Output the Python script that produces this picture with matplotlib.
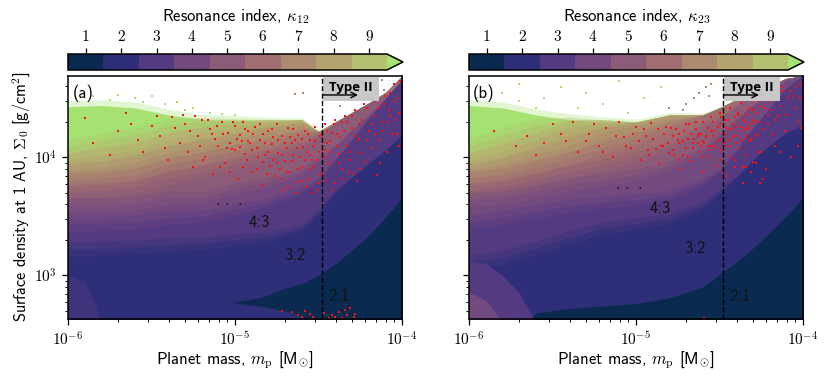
import numpy as np
import matplotlib
matplotlib.use("Agg")
import matplotlib.pyplot as plt
from matplotlib.colors import BoundaryNorm, ListedColormap
from matplotlib.cm import ScalarMappable
from matplotlib.ticker import NullFormatter

plt.rcParams['font.family'] = ['cmss10', 'DejaVu Sans']
plt.rcParams['mathtext.fontset'] = 'cm'
plt.rcParams['axes.unicode_minus'] = False

# band colours for kappa = 1..9, then the "over" colour
band_colors = ['#0b2a50', '#2e2f78', '#543a80', '#734a80', '#8c5b78',
               '#a06e70', '#ab8a70', '#b3a46f', '#b2c070']
over_color = '#a5e272'
cbar_ticks = [1, 2, 3, 4, 5, 6, 7, 8, 9]
x_ticks = [1e-6, 1e-5, 1e-4]
x_labels = [r'$10^{-6}$', r'$10^{-5}$', r'$10^{-4}$']
y_ticks = [1e3, 1e4]
y_labels = [r'$10^{3}$', r'$10^{4}$']

log_m = [-6.0, -5.8, -5.6, -5.4, -5.2, -5.0, -4.8, -4.6, -4.5, -4.4, -4.3, -4.2, -4.1, -4.0]
# how wide the speckled transition between bands looks at each mass (dex)
speckle = [0.06, 0.06, 0.06, 0.06, 0.05, 0.05, 0.04, 0.03, 0.02, 0.01, 0.0, 0.0, 0.0, 0.0]

# panel (a): log10 Sigma of the upper edge of each band
top_a = [4.45, 4.46, 4.44, 4.38, 4.34, 4.33, 4.32, 4.32, 4.22, 4.30, 4.38, 4.46, 4.55, 4.69]
edge9_a = [4.09, 4.15, 4.19, 4.27, 4.31, 4.32, 4.33, 4.8, 4.8, 4.8, 4.8, 4.8, 4.8, 4.8]
edge8_a = [3.98, 4.02, 4.06, 4.15, 4.21, 4.25, 4.30, 4.33, 4.8, 4.8, 4.8, 4.8, 4.8, 4.8]
edge7_a = [3.89, 3.91, 3.96, 4.04, 4.10, 4.16, 4.22, 4.27, 4.30, 4.8, 4.8, 4.8, 4.8, 4.8]
edge6_a = [3.81, 3.82, 3.85, 3.94, 3.99, 4.06, 4.12, 4.21, 4.22, 4.25, 4.8, 4.8, 4.8, 4.8]
edge5_a = [3.71, 3.72, 3.75, 3.82, 3.88, 3.94, 4.02, 4.10, 4.19, 4.30, 4.40, 4.46, 4.53, 4.61]
edge4_a = [3.60, 3.60, 3.61, 3.66, 3.66, 3.74, 3.79, 3.89, 3.98, 4.10, 4.23, 4.36, 4.49, 4.61]
edge3_a = [3.44, 3.44, 3.45, 3.49, 3.50, 3.56, 3.62, 3.72, 3.81, 3.98, 4.15, 4.33, 4.50, 4.66]
edge2_a = [3.22, 3.23, 3.24, 3.26, 3.27, 3.30, 3.33, 3.40, 3.54, 3.71, 3.83, 3.95, 4.06, 4.19]
wedge_m_a = [-5.02, -4.85, -4.7, -4.6, -4.5, -4.4, -4.3, -4.2, -4.1, -4.0]
wedge_up_a = [2.77, 2.81, 2.89, 2.93, 3.00, 3.10, 3.21, 3.34, 3.49, 3.66]
wedge_lo_a = [2.77, 2.74, 2.70, 2.65, 2.60, 2.60, 2.60, 2.60, 2.60, 2.60]
lobe_m_a = [-6.0, -5.9, -5.85, -5.8]
lobe_a = [3.0, 2.95, 2.8, 2.6]

# panel (b)
top_b = [4.46, 4.44, 4.38, 4.34, 4.32, 4.30, 4.36, 4.36, 4.42, 4.49, 4.55, 4.61, 4.67, 4.69]
edge9_b = [4.10, 4.19, 4.27, 4.32, 4.32, 4.8, 4.8, 4.8, 4.8, 4.8, 4.8, 4.8, 4.8, 4.8]
edge8_b = [3.98, 4.05, 4.15, 4.25, 4.30, 4.33, 4.8, 4.8, 4.8, 4.8, 4.8, 4.8, 4.8, 4.8]
edge7_b = [3.89, 3.94, 4.02, 4.10, 4.21, 4.27, 4.33, 4.8, 4.8, 4.8, 4.8, 4.8, 4.8, 4.8]
edge6_b = [3.82, 3.85, 3.92, 3.99, 4.08, 4.16, 4.27, 4.38, 4.8, 4.8, 4.8, 4.8, 4.8, 4.8]
edge5_b = [3.72, 3.75, 3.81, 3.88, 3.94, 4.00, 4.10, 4.27, 4.33, 4.44, 4.53, 4.8, 4.8, 4.8]
edge4_b = [3.64, 3.66, 3.71, 3.77, 3.81, 3.85, 3.93, 4.06, 4.19, 4.32, 4.44, 4.55, 4.66, 4.71]
edge3_b = [3.45, 3.49, 3.54, 3.59, 3.62, 3.64, 3.68, 3.79, 3.89, 4.06, 4.25, 4.42, 4.59, 4.70]
edge2_b = [3.11, 3.15, 3.23, 3.32, 3.40, 3.44, 3.48, 3.59, 3.71, 3.83, 3.98, 4.10, 4.21, 4.27]
wedge_m_b = [-5.65, -5.6, -5.4, -5.2, -5.0, -4.8, -4.6, -4.5, -4.4, -4.3, -4.2, -4.1, -4.0]
wedge_up_b = [2.60, 2.68, 2.72, 2.74, 2.76, 2.81, 2.90, 3.01, 3.11, 3.23, 3.36, 3.50, 3.66]
lobe3_m_b = [-6.0, -5.9, -5.8, -5.7, -5.6]
lobe3_b = [3.12, 3.10, 3.00, 2.85, 2.60]
lobe4_m_b = [-6.0, -5.9, -5.8]
lobe4_b = [2.86, 2.79, 2.60]

# unstable runs (red), log10 values
red_m_a = [-5.9, -5.85, -5.7, -5.65, -5.55, -5.5, -5.45, -5.4, -5.38, -5.33,
           -5.3, -5.28, -5.25, -5.22, -5.2, -5.18, -5.15, -5.13, -5.1, -5.08,
           -5.06, -5.04, -5.02, -5.0, -4.98, -4.96, -4.95, -4.93, -4.92, -4.9,
           -4.88, -4.87, -4.85, -4.84, -4.82, -4.8, -4.79, -4.78, -4.76, -4.75,
           -4.74, -4.72, -4.71, -4.7, -4.68, -4.67, -4.66, -4.65, -4.63, -4.62,
           -4.6, -4.59, -4.58, -4.56, -4.55, -4.54, -4.52, -4.51, -4.5, -4.49,
           -4.48, -4.46, -4.45, -4.44, -4.42, -4.41, -4.4, -4.38, -4.37, -4.36,
           -4.34, -4.33, -4.32, -4.3, -4.29, -4.28, -4.26, -4.25, -4.24, -4.22,
           -4.21, -4.2, -4.18, -4.17, -4.16, -4.14, -4.13, -4.12, -4.1, -4.09,
           -4.08, -4.07, -4.06, -4.05, -4.04, -4.03, -4.02, -4.01, -4.15, -4.27,
           -5.12, -5.03, -4.97, -4.91, -4.83, -4.77, -4.69, -4.64, -4.57, -4.53,
           -5.0, -4.94, -4.86, -4.81, -4.73, -4.61, -4.55, -4.47, -4.43, -4.39,
           -4.72, -4.66, -4.62, -4.6, -4.58, -4.55, -4.53, -4.47, -4.44, -4.42,
           -4.4, -4.38, -4.36, -4.34, -4.33, -4.31, -4.29, -4.28,
           -5.75, -5.62, -5.58, -5.47, -5.42, -5.36, -5.31, -5.27, -5.24, -5.21,
           -5.19, -5.16, -5.14, -5.11, -5.09, -5.07, -5.05, -5.03, -5.01, -4.99,
           -4.97, -4.95, -4.94, -4.92, -4.9, -4.89, -4.87, -4.85, -4.83, -4.82,
           -4.8, -4.78, -4.77, -4.75, -4.74, -4.72, -4.7, -4.69, -4.67, -4.66,
           -4.65, -4.63, -4.62, -4.6, -4.59, -4.58, -4.56, -4.55, -4.53, -4.52,
           -4.51, -4.49, -4.48, -4.46, -4.45, -4.43, -4.41, -4.39, -4.38, -4.36,
           -4.35, -4.33, -4.31, -4.3, -4.28, -4.26, -4.25, -4.23, -4.21, -4.19,
           -4.18, -4.16, -4.14, -4.12, -4.11, -4.09, -4.07, -4.05, -4.03, -4.02,
           -4.72, -4.68, -4.63, -4.57, -4.54, -4.5, -4.46, -4.42, -4.36, -4.32]
red_s_a = [4.33, 4.12, 4.22, 4.38, 4.05, 4.27, 4.18, 3.98, 4.34, 4.12,
           4.28, 4.05, 3.92, 4.18, 4.32, 4.0, 4.24, 3.86, 4.1, 4.3,
           3.95, 4.21, 4.07, 4.27, 3.82, 4.14, 4.3, 3.98, 4.22, 4.06,
           4.26, 3.9, 4.15, 3.77, 4.02, 4.22, 3.93, 4.11, 3.84, 4.28,
           4.04, 4.18, 3.72, 3.97, 4.25, 3.88, 4.12, 4.02, 3.79, 4.19,
           3.92, 4.09, 4.22, 3.82, 4.15, 3.98, 4.26, 3.72, 4.05, 4.18,
           3.88, 4.28, 4.12, 3.95, 4.21, 3.78, 4.32, 4.03, 4.17, 3.9,
           4.35, 4.1, 3.98, 4.25, 3.86, 4.4, 4.16, 4.04, 4.32, 3.96,
           4.42, 4.22, 4.08, 4.35, 4.48, 4.15, 3.95, 4.3, 4.52, 4.05,
           4.4, 4.55, 4.2, 4.62, 4.32, 4.5, 4.1, 4.65, 3.85, 3.8,
           4.16, 4.12, 4.19, 4.12, 4.2, 4.17, 4.08, 4.15, 4.05, 4.1,
           4.06, 4.03, 4.0, 3.86, 3.9, 4.0, 3.9, 4.0, 4.05, 4.1,
           2.7, 2.69, 2.66, 2.65, 2.7, 2.67, 2.65, 2.68, 2.64, 2.66,
           2.65, 2.69, 2.64, 2.71, 2.66, 2.72, 2.65, 2.67,
           4.02, 4.28, 4.15, 4.35, 4.08, 4.25, 4.36, 4.22, 4.35, 4.1,
           3.98, 4.32, 4.2, 4.27, 3.92, 4.2, 4.08, 3.88, 4.3, 4.16,
           4.09, 3.92, 4.24, 4.14, 3.88, 4.2, 4.08, 4.28, 3.96, 4.12,
           4.05, 4.24, 3.98, 3.95, 4.15, 4.02, 4.12, 3.88, 4.17, 3.97,
           4.24, 4.08, 3.9, 4.16, 3.8, 3.98, 4.2, 4.02, 3.92, 4.14,
           3.98, 3.85, 4.2, 4.06, 4.22, 4.14, 4.28, 4.2, 3.95, 4.3,
           4.22, 4.3, 4.05, 4.35, 4.18, 4.28, 3.9, 4.45, 4.15, 4.5,
           4.28, 4.2, 4.42, 4.22, 4.45, 4.3, 4.35, 4.48, 4.2, 4.38,
           3.82, 3.75, 3.7, 3.75, 3.7, 3.78, 3.8, 3.72, 3.82, 3.88]

red_m_b = [-5.85, -5.72, -5.6, -5.5, -5.42, -5.35, -5.28, -5.22, -5.18, -5.14,
           -5.1, -5.07, -5.03, -5.0, -4.97, -4.94, -4.91, -4.88, -4.86, -4.83,
           -4.81, -4.79, -4.77, -4.75, -4.73, -4.71, -4.7, -4.68, -4.67, -4.65,
           -4.64, -4.62, -4.61, -4.6, -4.59, -4.57, -4.56, -4.55, -4.54, -4.53,
           -4.52, -4.51, -4.5, -4.49, -4.48, -4.47, -4.46, -4.45, -4.44, -4.43,
           -4.42, -4.41, -4.4, -4.39, -4.38, -4.37, -4.36, -4.35, -4.34, -4.33,
           -4.32, -4.31, -4.3, -4.29, -4.28, -4.27, -4.26, -4.25, -4.24, -4.23,
           -4.21, -4.19, -4.17, -4.15, -4.13, -4.11, -4.09, -4.07, -4.05, -4.03,
           -4.02, -4.69, -4.74, -4.62, -4.58, -4.55, -4.5, -4.47, -4.45, -4.42,
           -4.4, -4.38, -4.35, -4.33, -4.3, -4.28, -4.92, -4.85, -4.78, -4.72,
           -4.66, -4.63, -4.6, -4.57, -4.52, -4.48, -4.44, -4.37, -4.34, -4.31,
           -5.65, -5.55, -5.45, -5.38, -5.3, -5.25, -5.2, -5.12, -5.06, -5.02,
           -4.98, -4.95, -4.93, -4.9, -4.87, -4.84, -4.82, -4.8, -4.78, -4.76,
           -4.74, -4.72, -4.7, -4.69, -4.67, -4.66, -4.64, -4.63, -4.61, -4.6,
           -4.58, -4.57, -4.55, -4.54, -4.53, -4.51, -4.5, -4.49, -4.47, -4.46,
           -4.45, -4.44, -4.43, -4.41, -4.4, -4.39, -4.37, -4.36, -4.35, -4.34,
           -4.33, -4.32, -4.31, -4.3, -4.29, -4.28, -4.27, -4.26, -4.25, -4.24,
           -4.23, -4.22, -4.21, -4.2, -4.19, -4.18, -4.17, -4.16, -4.14, -4.12,
           -4.1, -4.08, -4.06, -4.04, -4.03, -4.02, -4.01, -4.18, -4.27, -4.34,
           -4.74, -4.6, -4.5, -4.48, -4.41, -4.36, -4.3, -4.26, -4.22, -4.14, -4.59]
red_s_b = [4.22, 4.1, 4.02, 4.28, 4.14, 4.05, 4.2, 4.1, 4.25, 4.0,
           4.3, 4.17, 4.08, 4.26, 3.98, 4.18, 4.29, 4.07, 3.95, 4.2,
           4.12, 4.25, 4.02, 4.15, 3.9, 4.22, 4.08, 4.28, 3.97, 4.16,
           4.3, 4.05, 4.2, 3.88, 4.12, 4.25, 4.0, 4.34, 4.18, 4.1,
           3.93, 4.26, 4.38, 4.06, 4.2, 4.32, 3.84, 4.14, 4.42, 4.0,
           4.28, 3.92, 4.18, 4.36, 4.08, 4.46, 3.78, 4.24, 4.02, 4.4,
           4.14, 3.88, 4.5, 4.3, 3.95, 4.2, 4.44, 4.05, 3.82, 4.56,
           4.28, 4.48, 4.1, 4.35, 4.6, 4.22, 4.5, 4.0, 4.42, 4.3,
           4.62, 4.16, 4.12, 4.2, 4.17, 4.22, 4.16, 4.2, 4.24, 4.18,
           4.26, 4.22, 4.3, 4.26, 4.32, 4.3, 4.02, 4.1, 4.06, 4.02,
           4.08, 4.12, 4.14, 4.1, 4.08, 4.12, 4.1, 4.14, 4.18, 4.16,
           4.18, 4.12, 4.2, 4.3, 4.14, 4.28, 4.05, 4.18, 4.1, 4.2,
           4.14, 4.24, 4.06, 4.16, 4.24, 4.1, 4.26, 4.04, 4.18, 4.24,
           4.2, 4.14, 4.28, 4.0, 4.2, 4.12, 4.24, 4.18, 4.1, 4.3,
           4.18, 4.06, 4.1, 4.3, 4.22, 4.14, 4.28, 4.34, 4.1, 4.26,
           4.32, 4.16, 4.24, 4.34, 4.12, 4.38, 4.26, 4.32, 4.16, 4.36,
           4.24, 4.42, 4.28, 4.4, 4.18, 4.38, 4.48, 4.3, 4.52, 4.24,
           4.42, 4.5, 4.36, 4.55, 4.4, 4.58, 4.32, 4.5, 4.44, 4.56,
           4.36, 4.56, 4.52, 4.6, 4.1, 4.5, 4.25, 4.2, 4.05, 3.92,
           3.98, 4.0, 3.98, 3.88, 3.98, 3.92, 3.96, 3.78, 3.9, 4.05, 2.64]

# stray runs above the main cloud
green_m_a = [-5.95, -5.85, -5.75, -5.7, -5.6, -5.55, -5.5, -5.42, -5.35, -5.3, -5.25, -5.15, -5.08, -5.0]
green_s_a = [4.5, 4.52, 4.49, 4.53, 4.5, 4.47, 4.52, 4.45, 4.47, 4.4, 4.42, 4.38, 4.37, 4.36]
tan_m_a = [-4.64, -4.59, -4.37, -4.12, -4.11, -4.16]
tan_s_a = [4.54, 4.55, 4.44, 4.66, 4.57, 4.61]
green_m_b = [-5.95, -5.8, -5.7, -5.55, -5.45, -5.3, -5.2, -5.1, -4.95, -4.85, -5.6, -5.35, -5.05, -5.7]
green_s_b = [4.5, 4.55, 4.62, 4.5, 4.6, 4.55, 4.45, 4.65, 4.5, 4.6, 4.42, 4.42, 4.38, 4.48]
tan_m_b = [-4.72, -4.65, -4.62, -4.58, -4.56, -4.8, -4.7, -4.55]
tan_s_b = [4.4, 4.5, 4.55, 4.6, 4.52, 4.42, 4.45, 4.62]

W, H = 830, 380
XLIM = (1e-6, 1e-4)
YLIM = (424, 49000)
TYPE2_MASS = 3.3e-5


def draw_bands(ax, top, edges, wedge):
    m = 10.0 ** np.array(log_m)
    low = YLIM[0] * 0.5
    top = np.array(top)
    d = np.array(speckle)
    # soft top edge, then each band from the highest down with a soft upper side
    ax.fill_between(m, low, 10.0 ** (top + d / 2), color=over_color, alpha=0.3, lw=0)
    ax.fill_between(m, low, 10.0 ** (top - d / 3), color=over_color, lw=0)
    for k, edge in zip(range(8, 0, -1), edges):
        edge = np.array(edge)
        ax.fill_between(m, low, 10.0 ** np.minimum(edge + d, top), color=band_colors[k],
                        alpha=0.35, lw=0)
        ax.fill_between(m, low, 10.0 ** np.minimum(edge, top), color=band_colors[k],
                        alpha=0.55, lw=0)
        ax.fill_between(m, low, 10.0 ** np.minimum(edge - d, top), color=band_colors[k], lw=0)
    wm, wl, wu = wedge
    ax.fill_between(10.0 ** np.array(wm), 10.0 ** np.array(wl), 10.0 ** np.array(wu),
                    color=band_colors[0], lw=0)


def scatter(ax, lm, ls, color, size):
    ax.scatter(10.0 ** np.array(lm), 10.0 ** np.array(ls), s=size, c=color,
               marker='s', linewidths=0, zorder=3)


def dress(ax, letter, labels):
    ax.set_xscale('log')
    ax.set_yscale('log')
    ax.set_xlim(XLIM)
    ax.set_ylim(YLIM)
    ax.set_xticks(x_ticks)
    ax.set_xticklabels(x_labels)
    ax.set_yticks(y_ticks)
    ax.set_yticklabels(y_labels)
    ax.xaxis.set_minor_formatter(NullFormatter())
    ax.yaxis.set_minor_formatter(NullFormatter())
    ax.axvline(TYPE2_MASS, color='k', ls='--', lw=1.0, zorder=5)
    ax.add_patch(plt.Rectangle((0.763, 0.898), 0.168, 0.099, transform=ax.transAxes,
                               fc='#c8c8c8', ec='none', zorder=4))
    ax.text(0.847, 0.952, 'Type II', transform=ax.transAxes, ha='center', va='center',
            fontsize=9.5, fontweight='bold', family=['Open Sans', 'DejaVu Sans'], zorder=6)
    ax.annotate('', xy=(0.868, 0.922), xytext=(0.763, 0.922), xycoords='axes fraction',
                arrowprops=dict(arrowstyle='->', color='k', lw=1.0, shrinkA=0, shrinkB=0), zorder=6)
    ax.text(0.045, 0.93, letter, transform=ax.transAxes, ha='center', va='center', fontsize=12)
    for x, y, s in labels:
        ax.text(x, y, s, ha='center', va='center', fontsize=12, color='#111111', zorder=6)
    ax.tick_params(which='major', length=4.5, width=0.9, labelsize=11)
    ax.tick_params(which='minor', length=2.5, width=0.7)
    ax.set_xlabel(r'Planet mass, $m_{\rm p}$ [M$_{\odot}$]', fontsize=12)
    ax.xaxis.set_label_coords(0.5, -0.123)
    for sp in ax.spines.values():
        sp.set_linewidth(1.1)
        sp.set_zorder(7)


def colorbar(fig, rect, sub, center_px):
    cax = fig.add_axes(rect)
    cmap = ListedColormap(band_colors)
    cmap.set_over(over_color)
    norm = BoundaryNorm(np.arange(0.5, 10.5), cmap.N)
    cb = fig.colorbar(ScalarMappable(norm=norm, cmap=cmap), cax=cax, orientation='horizontal',
                      extend='max', extendfrac=16 / 318, ticks=cbar_ticks, spacing='proportional')
    cb.ax.xaxis.set_ticks_position('top')
    cb.ax.set_xticklabels(['$%d$' % t for t in cbar_ticks], fontsize=11)
    cb.ax.tick_params(length=4.5, width=0.9, pad=3)
    cb.ax.minorticks_off()
    cb.outline.set_linewidth(1.1)
    fig.text(center_px / W, 1 - 17 / H, r'Resonance index, $\kappa_{%s}$' % sub, fontsize=12,
             ha='center', va='center')


fig = plt.figure(figsize=(W / 100, H / 100), dpi=100)

ax_a = fig.add_axes([68 / W, (H - 319.3) / H, 334 / W, 243.3 / H])
edges_a = [edge9_a, edge8_a, edge7_a, edge6_a, edge5_a, edge4_a, edge3_a, edge2_a]
draw_bands(ax_a, top_a, edges_a, (wedge_m_a, wedge_lo_a, wedge_up_a))
ax_a.fill_between(10.0 ** np.array(lobe_m_a), YLIM[0] * 0.5, 10.0 ** np.array(lobe_a),
                  color=band_colors[2], alpha=0.45, lw=0)
scatter(ax_a, green_m_a, green_s_a, over_color, 1.2)
scatter(ax_a, tan_m_a, tan_s_a, band_colors[6], 1.6)
scatter(ax_a, red_m_a, red_s_a, '#ff1010', 2.6)
dress(ax_a, '(a)', [(9.2e-6, 4.2e3, r'$\cdot\,\cdot\,\cdot$'), (1.39e-5, 2.83e3, '4:3'),
                    (2.29e-5, 1.46e3, '3:2'), (4.2e-5, 668, '2:1')])
ax_a.set_ylabel(r'Surface density at 1 AU, $\Sigma_0$ [g/cm$^2$]', fontsize=11.7)
ax_a.yaxis.set_label_coords(-0.108, 0.503)
colorbar(fig, [68 / W, (H - 70) / H, 335 / W, 16 / H], '12', 235.5)

ax_b = fig.add_axes([469 / W, (H - 319.3) / H, 334 / W, 243.3 / H])
edges_b = [edge9_b, edge8_b, edge7_b, edge6_b, edge5_b, edge4_b, edge3_b, edge2_b]
draw_bands(ax_b, top_b, edges_b, (wedge_m_b, [2.6] * len(wedge_m_b), wedge_up_b))
ax_b.fill_between(10.0 ** np.array(lobe3_m_b), YLIM[0] * 0.5, 10.0 ** np.array(lobe3_b),
                  color=band_colors[2], lw=0)
ax_b.fill_between(10.0 ** np.array(lobe4_m_b), YLIM[0] * 0.5, 10.0 ** np.array(lobe4_b),
                  color=band_colors[3], lw=0)
scatter(ax_b, green_m_b, green_s_b, over_color, 1.2)
scatter(ax_b, tan_m_b, tan_s_b, band_colors[6], 1.6)
scatter(ax_b, red_m_b, red_s_b, '#ff1010', 2.6)
dress(ax_b, '(b)', [(9.1e-6, 5.8e3, r'$\cdot\,\cdot\,\cdot$'), (1.39e-5, 3.72e3, '4:3'),
                    (2.26e-5, 1.68e3, '3:2'), (4.2e-5, 668, '2:1')])
ax_b.set_yticklabels([])
colorbar(fig, [469 / W, (H - 70) / H, 335 / W, 16 / H], '23', 636.5)

fig.savefig('out.png', dpi=100)
